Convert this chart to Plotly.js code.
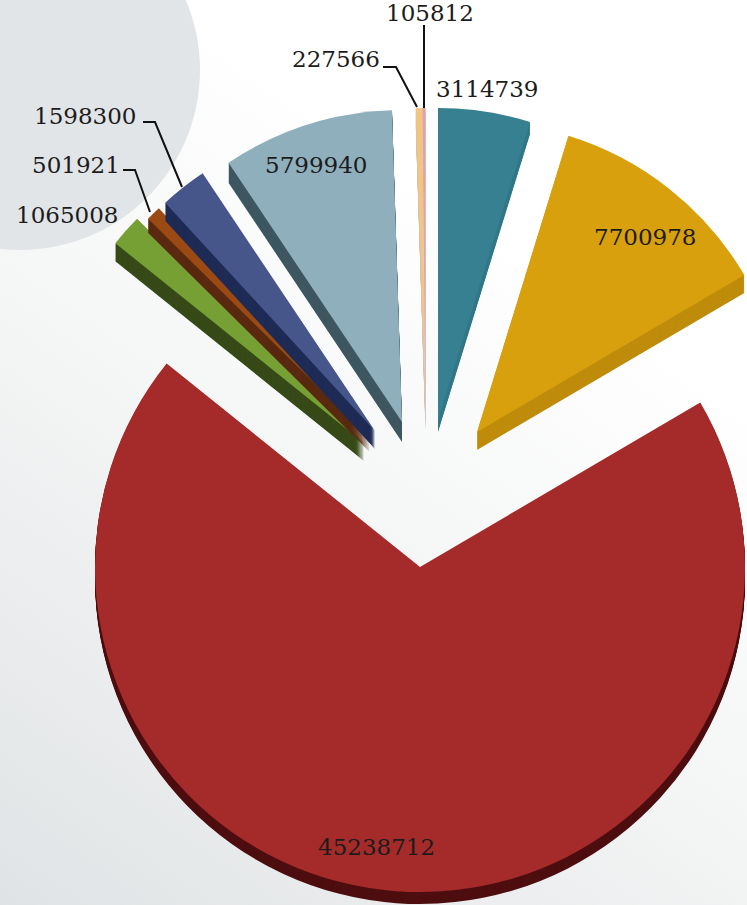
<!DOCTYPE html>
<html>
<head>
<meta charset="utf-8">
<script src="https://cdn.plot.ly/plotly-3.0.1.min.js"></script>
<style>
html,body{margin:0;padding:0;width:747px;height:905px;overflow:hidden;}
body{background:linear-gradient(215deg,#ffffff 0%,#ffffff 28%,#f4f5f5 58%,#e0e3e5 100%);}
#chart{width:800px;height:905px;}
</style>
</head>
<body>
<div id="chart"></div>
<script>
// Data, clockwise from 12 o'clock
const values = [3114739, 7700978, 45238712, 1065008, 501921, 1598300, 5799940, 227566, 105812];
const colors = ['#368092', '#d9a00e', '#a52a2a', '#76a034', '#9a4a12', '#46568a', '#8fafbd', '#f4c57c', '#e8a0a0'];
const wallColors = ['#327889', '#bf8c0b', '#4e0e10', '#374a18', '#5a2a10', '#1f2c56', '#3f5760', '#cfc4b4', '#d6cfcf'];

// Layout of the exploded slices, in page pixels
const centerX = [438, 477, 420, 364, 370, 375, 402, 425.5, 425.5];
const centerY = [420, 432, 567, 443, 438, 431, 422, 410, 410];
const radius  = [312, 310, 325, 319, 312, 310, 312, 302, 302];
const depth   = [12, 18, 12, 18, 14, 18, 20, 20, 20];
const drawOrder = [0, 1, 6, 7, 8, 3, 4, 5, 2];

// Label placement, in page pixels
const labelX = [487, 645, 376, 67, 76, 85, 316, 336, 430];
const labelY = [89, 237, 847, 215, 165, 116, 165, 59, 13];

// Leader lines, in page pixels
const leaders = [
  [[424, 25], [424, 108]],
  [[383, 67], [396, 67], [417, 107]],
  [[143, 122], [155, 122], [182, 187]],
  [[123, 170], [135, 170], [150, 212]]
];

const W = 800, H = 905;
const total = values.reduce((a, b) => a + b, 0);
const starts = [];
values.reduce((acc, v, i) => { starts[i] = acc; return acc + v; }, 0);

function wedge(i, dy, color) {
  const r = radius[i], cx = centerX[i], cy = centerY[i] + dy;
  return {
    type: 'pie',
    values: [values[i], total - values[i]],
    sort: false,
    direction: 'clockwise',
    rotation: starts[i] / total * 360,
    domain: { x: [(cx - r) / W, (cx + r) / W], y: [1 - (cy + r) / H, 1 - (cy - r) / H] },
    marker: { colors: [color, 'rgba(0,0,0,0)'], line: { width: 0 } },
    textinfo: 'none',
    hoverinfo: 'skip',
    showlegend: false
  };
}

const traces = [];
drawOrder.forEach(i => {
  for (let d = depth[i]; d > 0; d -= 1) traces.push(wedge(i, d, wallColors[i]));
  traces.push(wedge(i, 0, colors[i]));
});

// The pale disc behind the top-left labels
const discPath = (() => {
  const cx = 20, cy = 70, r = 180; let p = '';
  for (let a = 0; a <= 360; a += 3) {
    const x = cx + r * Math.cos(a * Math.PI / 180), y = cy + r * Math.sin(a * Math.PI / 180);
    p += (a ? 'L' : 'M') + (x / W).toFixed(5) + ',' + (1 - y / H).toFixed(5);
  }
  return p + 'Z';
})();
const shapes = [{ type: 'path', path: discPath, xref: 'paper', yref: 'paper', layer: 'below', fillcolor: '#e2e5e8', line: { width: 0 } }];

leaders.forEach(pts => {
  const path = pts.map((p, k) => (k ? 'L' : 'M') + (p[0] / W).toFixed(5) + ',' + (1 - p[1] / H).toFixed(5)).join('');
  shapes.push({ type: 'path', path: path, xref: 'paper', yref: 'paper', layer: 'above', line: { color: '#111111', width: 2 } });
});

const annotations = values.map((v, i) => ({
  text: String(v), xref: 'paper', yref: 'paper',
  x: labelX[i] / W, y: 1 - labelY[i] / H,
  xanchor: 'center', yanchor: 'middle', showarrow: false,
  font: { family: 'DejaVu Serif', size: 23, color: '#1c1c1c' }
}));

Plotly.newPlot('chart', traces, {
  width: W, height: H,
  margin: { l: 0, r: 0, t: 0, b: 0 },
  paper_bgcolor: 'rgba(0,0,0,0)',
  plot_bgcolor: 'rgba(0,0,0,0)',
  showlegend: false,
  shapes: shapes,
  annotations: annotations
}, { displayModeBar: false, staticPlot: true });
</script>
</body>
</html>
